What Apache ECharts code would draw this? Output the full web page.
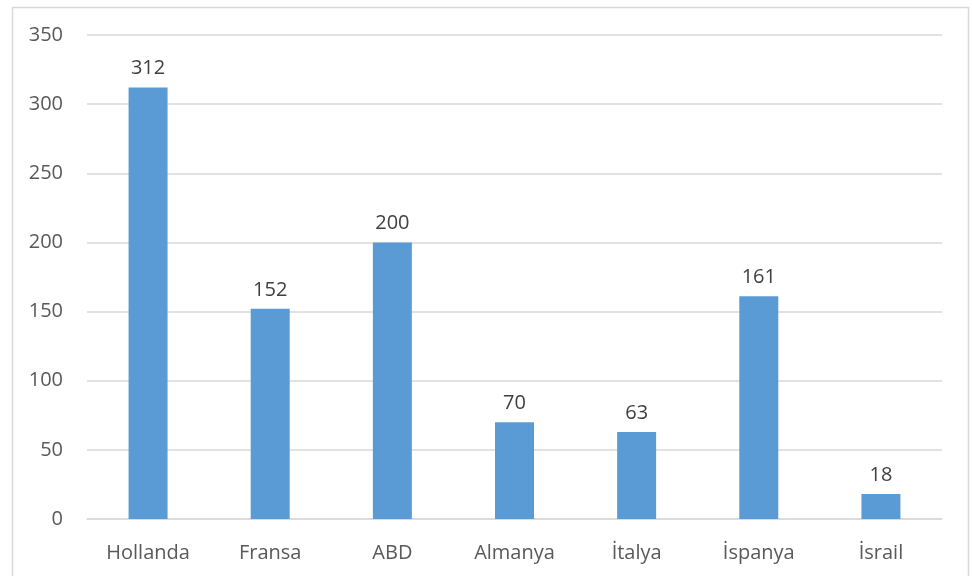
<!DOCTYPE html>
<html><head><meta charset="utf-8">
<script src="https://cdn.jsdelivr.net/npm/echarts@6/dist/echarts.min.js"></script>
<style>html,body{margin:0;padding:0;background:#fff}#c{width:972px;height:576px}</style>
</head><body><div id="c"></div>
<script>
const categories = ['Hollanda','Fransa','ABD','Almanya','İtalya','İspanya','İsrail'];
const values = [312,152,200,70,63,161,18];
const yTicks = {min:0,max:350,interval:50};
const chart = echarts.init(document.getElementById('c'));
const font = '"Open Sans", "Liberation Sans", sans-serif';
chart.setOption({
  animation:false,
  graphic:[{type:'rect',left:10,top:5,shape:{width:956,height:580},style:{fill:'none',stroke:'#d9d9d9',lineWidth:1.5},silent:true,z:-1}],
  grid:{left:87,right:30,top:35,bottom:57},
  xAxis:{type:'category',data:categories,
    axisLine:{lineStyle:{color:'#d9d9d9',width:1.5}},axisTick:{show:false},
    axisLabel:{color:'#595959',fontSize:20,fontFamily:font,margin:24}},
  yAxis:{type:'value',min:yTicks.min,max:yTicks.max,interval:yTicks.interval,
    axisLine:{show:false},axisTick:{show:false},
    splitLine:{lineStyle:{color:'#d9d9d9',width:1.5}},
    axisLabel:{color:'#595959',fontSize:20,fontFamily:font,margin:24}},
  series:[{type:'bar',data:values,barWidth:39,itemStyle:{color:'#5b9bd5'},
    label:{show:true,position:'top',color:'#404040',fontSize:20,fontFamily:font,distance:9}}]
});
</script></body></html>
